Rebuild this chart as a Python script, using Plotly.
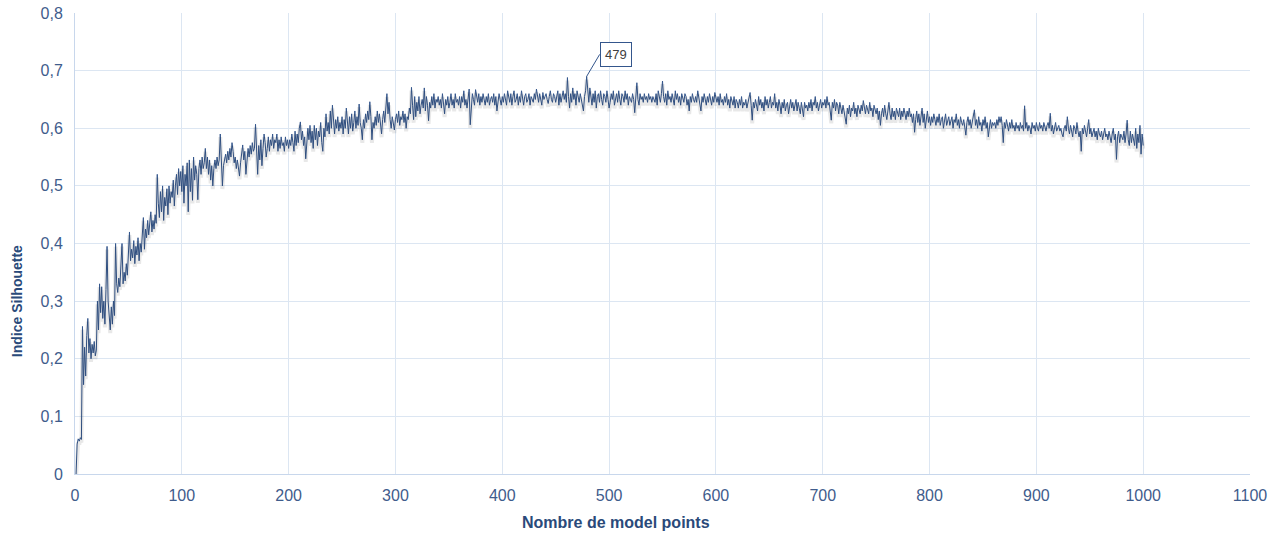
import plotly.graph_objects as go

# x: number of model points (1..1000)
silhouette = [
    0.0, 0.052, 0.061, 0.057, 0.063, 0.06, 0.256, 0.155, 0.22, 0.17, 0.24, 0.27, 0.21, 0.235, 0.2, 0.225, 0.21, 0.23, 0.205, 0.215,
    0.3, 0.25, 0.33, 0.28, 0.325, 0.27, 0.3, 0.26, 0.32, 0.395, 0.3, 0.265, 0.25, 0.29, 0.26, 0.3, 0.275, 0.4, 0.33, 0.315,
    0.34, 0.325, 0.36, 0.4, 0.33, 0.35, 0.335, 0.365, 0.345, 0.38, 0.42, 0.37, 0.39, 0.375, 0.405, 0.365, 0.395, 0.38, 0.41, 0.37,
    0.4, 0.385, 0.42, 0.445, 0.39, 0.425, 0.41, 0.44, 0.415, 0.43, 0.455, 0.42, 0.44, 0.425, 0.45, 0.435, 0.52, 0.47, 0.445, 0.49,
    0.455, 0.5, 0.44, 0.48, 0.465, 0.495, 0.45, 0.5, 0.47, 0.49, 0.48, 0.51, 0.465, 0.5, 0.52, 0.485, 0.53, 0.5, 0.525, 0.49,
    0.535, 0.47, 0.52, 0.5, 0.54, 0.455, 0.545, 0.49, 0.53, 0.475, 0.55, 0.51, 0.535, 0.52, 0.476, 0.53, 0.545, 0.52, 0.55, 0.53,
    0.54, 0.565, 0.53, 0.55, 0.52, 0.545, 0.51, 0.535, 0.5, 0.53, 0.545, 0.53, 0.55, 0.535, 0.545, 0.59, 0.54, 0.5, 0.535, 0.545,
    0.555, 0.54, 0.56, 0.545, 0.565, 0.55, 0.575, 0.56, 0.54, 0.55, 0.53, 0.545, 0.525, 0.517, 0.54, 0.555, 0.571, 0.545, 0.56, 0.52,
    0.55, 0.565, 0.55, 0.57, 0.555, 0.575, 0.56, 0.565, 0.607, 0.55, 0.52, 0.57, 0.545, 0.58, 0.535, 0.565, 0.59, 0.575, 0.55, 0.565,
    0.585, 0.56, 0.58, 0.57, 0.59, 0.565, 0.58, 0.575, 0.59, 0.56, 0.58, 0.565, 0.585, 0.57, 0.575, 0.56, 0.585, 0.57, 0.58, 0.565,
    0.58, 0.57, 0.59, 0.575, 0.56, 0.595, 0.57, 0.59, 0.575, 0.6, 0.611, 0.58, 0.595, 0.57, 0.585, 0.547, 0.57, 0.6, 0.58, 0.605,
    0.575, 0.595, 0.565, 0.605, 0.58, 0.6, 0.57, 0.595, 0.585, 0.61, 0.575, 0.56, 0.6, 0.585, 0.625, 0.595, 0.61, 0.59, 0.63, 0.6,
    0.64, 0.605, 0.59, 0.615, 0.6, 0.62, 0.595, 0.61, 0.6, 0.62, 0.59, 0.615, 0.6, 0.635, 0.605, 0.59, 0.62, 0.6, 0.625, 0.595,
    0.61, 0.63, 0.6, 0.62, 0.605, 0.642, 0.61, 0.6, 0.58, 0.615, 0.6, 0.625, 0.61, 0.63, 0.615, 0.646, 0.62, 0.58, 0.61, 0.6,
    0.62, 0.605, 0.63, 0.61, 0.625, 0.6, 0.59, 0.615, 0.63, 0.61, 0.64, 0.66, 0.625, 0.645, 0.615, 0.6, 0.62, 0.605, 0.597, 0.615,
    0.625, 0.61, 0.63, 0.605, 0.62, 0.615, 0.63, 0.61, 0.625, 0.6, 0.62, 0.615, 0.635, 0.625, 0.671, 0.64, 0.615, 0.655, 0.62, 0.645,
    0.63, 0.655, 0.625, 0.64, 0.65, 0.635, 0.67, 0.63, 0.655, 0.64, 0.613, 0.645, 0.635, 0.655, 0.64, 0.66, 0.635, 0.65, 0.645, 0.655,
    0.64, 0.65, 0.635, 0.66, 0.645, 0.625, 0.65, 0.64, 0.655, 0.635, 0.645, 0.66, 0.64, 0.65, 0.635, 0.66, 0.645, 0.65, 0.64, 0.655,
    0.635, 0.655, 0.645, 0.665, 0.64, 0.65, 0.635, 0.655, 0.668, 0.606, 0.645, 0.66, 0.65, 0.64, 0.667, 0.65, 0.645, 0.66, 0.64, 0.655,
    0.645, 0.66, 0.65, 0.64, 0.655, 0.645, 0.66, 0.64, 0.65, 0.655, 0.645, 0.66, 0.64, 0.655, 0.63, 0.645, 0.66, 0.65, 0.64, 0.655,
    0.645, 0.66, 0.65, 0.64, 0.665, 0.65, 0.645, 0.66, 0.64, 0.655, 0.665, 0.645, 0.65, 0.66, 0.64, 0.655, 0.645, 0.665, 0.65, 0.64,
    0.655, 0.66, 0.645, 0.65, 0.66, 0.64, 0.655, 0.65, 0.645, 0.66, 0.65, 0.668, 0.655, 0.645, 0.66, 0.65, 0.64, 0.662, 0.65, 0.655,
    0.66, 0.65, 0.643, 0.655, 0.665, 0.65, 0.645, 0.66, 0.655, 0.645, 0.655, 0.665, 0.64, 0.66, 0.645, 0.655, 0.665, 0.65, 0.66, 0.645,
    0.688, 0.655, 0.635, 0.66, 0.645, 0.67, 0.65, 0.66, 0.64, 0.665, 0.655, 0.645, 0.66, 0.65, 0.64, 0.63, 0.655, 0.665, 0.69, 0.66,
    0.645, 0.67, 0.65, 0.64, 0.66, 0.645, 0.665, 0.635, 0.655, 0.66, 0.645, 0.665, 0.65, 0.64, 0.66, 0.655, 0.645, 0.665, 0.65, 0.635,
    0.645, 0.66, 0.65, 0.665, 0.64, 0.655, 0.66, 0.645, 0.665, 0.65, 0.64, 0.66, 0.655, 0.645, 0.665, 0.65, 0.66, 0.64, 0.655, 0.65,
    0.645, 0.66, 0.65, 0.627, 0.655, 0.679, 0.65, 0.64, 0.66, 0.65, 0.655, 0.645, 0.66, 0.65, 0.655, 0.645, 0.66, 0.65, 0.655, 0.645,
    0.655, 0.65, 0.645, 0.66, 0.64, 0.665, 0.65, 0.645, 0.66, 0.682, 0.655, 0.645, 0.66, 0.64, 0.665, 0.65, 0.655, 0.645, 0.66, 0.65,
    0.64, 0.665, 0.65, 0.66, 0.645, 0.655, 0.64, 0.66, 0.65, 0.645, 0.66, 0.655, 0.64, 0.65, 0.63, 0.655, 0.645, 0.66, 0.65, 0.645,
    0.655, 0.645, 0.665, 0.65, 0.64, 0.63, 0.655, 0.645, 0.66, 0.65, 0.64, 0.655, 0.645, 0.66, 0.65, 0.64, 0.655, 0.645, 0.662, 0.65,
    0.645, 0.655, 0.64, 0.66, 0.645, 0.65, 0.64, 0.655, 0.645, 0.66, 0.64, 0.65, 0.635, 0.655, 0.645, 0.64, 0.655, 0.635, 0.65, 0.645,
    0.635, 0.65, 0.64, 0.655, 0.635, 0.645, 0.64, 0.65, 0.635, 0.645, 0.655, 0.662, 0.64, 0.614, 0.645, 0.635, 0.65, 0.64, 0.63, 0.655,
    0.64, 0.65, 0.635, 0.645, 0.63, 0.655, 0.64, 0.65, 0.635, 0.645, 0.655, 0.635, 0.645, 0.64, 0.66, 0.635, 0.645, 0.63, 0.65, 0.64,
    0.625, 0.645, 0.635, 0.65, 0.63, 0.64, 0.645, 0.625, 0.64, 0.65, 0.635, 0.645, 0.63, 0.64, 0.65, 0.63, 0.645, 0.635, 0.625, 0.645,
    0.635, 0.62, 0.645, 0.635, 0.64, 0.63, 0.645, 0.635, 0.65, 0.63, 0.645, 0.64, 0.655, 0.635, 0.645, 0.63, 0.64, 0.65, 0.635, 0.645,
    0.64, 0.65, 0.635, 0.655, 0.64, 0.645, 0.63, 0.614, 0.645, 0.635, 0.65, 0.63, 0.645, 0.64, 0.625, 0.645, 0.635, 0.625, 0.64, 0.63,
    0.62, 0.607, 0.635, 0.625, 0.64, 0.62, 0.635, 0.63, 0.645, 0.625, 0.635, 0.62, 0.64, 0.63, 0.625, 0.64, 0.63, 0.648, 0.635, 0.625,
    0.64, 0.63, 0.625, 0.645, 0.63, 0.635, 0.62, 0.64, 0.63, 0.625, 0.635, 0.615, 0.63, 0.605, 0.625, 0.635, 0.62, 0.64, 0.625, 0.615,
    0.63, 0.645, 0.625, 0.615, 0.635, 0.62, 0.63, 0.615, 0.635, 0.625, 0.62, 0.635, 0.615, 0.63, 0.62, 0.635, 0.625, 0.615, 0.63, 0.62,
    0.635, 0.62, 0.625, 0.61, 0.625, 0.593, 0.615, 0.63, 0.61, 0.625, 0.605, 0.62, 0.635, 0.61, 0.625, 0.6, 0.62, 0.63, 0.61, 0.62,
    0.605, 0.62, 0.61, 0.625, 0.615, 0.605, 0.62, 0.61, 0.625, 0.605, 0.615, 0.62, 0.6, 0.615, 0.625, 0.605, 0.615, 0.62, 0.605, 0.615,
    0.62, 0.6, 0.615, 0.61, 0.625, 0.605, 0.615, 0.6, 0.62, 0.61, 0.605, 0.615, 0.6, 0.588, 0.61, 0.62, 0.605, 0.615, 0.6, 0.61,
    0.62, 0.632, 0.605, 0.615, 0.6, 0.62, 0.605, 0.61, 0.595, 0.615, 0.605, 0.62, 0.6, 0.61, 0.585, 0.605, 0.615, 0.6, 0.61, 0.605,
    0.61, 0.6, 0.615, 0.605, 0.62, 0.61, 0.62, 0.605, 0.575, 0.61, 0.6, 0.615, 0.605, 0.595, 0.61, 0.6, 0.615, 0.6, 0.605, 0.595,
    0.61, 0.6, 0.605, 0.595, 0.61, 0.6, 0.605, 0.595, 0.639, 0.6, 0.61, 0.595, 0.605, 0.6, 0.59, 0.61, 0.6, 0.605, 0.595, 0.61,
    0.6, 0.595, 0.61, 0.6, 0.605, 0.595, 0.61, 0.6, 0.595, 0.605, 0.61, 0.6, 0.626, 0.595, 0.605, 0.59, 0.6, 0.61, 0.595, 0.6,
    0.605, 0.595, 0.6, 0.59, 0.585, 0.6, 0.605, 0.595, 0.62, 0.6, 0.59, 0.605, 0.595, 0.585, 0.605, 0.6, 0.59, 0.61, 0.595, 0.585,
    0.595, 0.56, 0.6, 0.59, 0.605, 0.595, 0.585, 0.6, 0.615, 0.59, 0.6, 0.585, 0.595, 0.6, 0.585, 0.595, 0.58, 0.6, 0.59, 0.585,
    0.595, 0.58, 0.59, 0.6, 0.585, 0.59, 0.58, 0.595, 0.585, 0.575, 0.59, 0.6, 0.58, 0.59, 0.546, 0.585, 0.595, 0.575, 0.59, 0.585,
    0.58, 0.595, 0.575, 0.59, 0.614, 0.58, 0.57, 0.595, 0.575, 0.59, 0.58, 0.57, 0.6, 0.565, 0.59, 0.575, 0.605, 0.555, 0.59, 0.57,
]
model_points = list(range(1, len(silhouette) + 1))

peak_x = 479
peak_label = "479"

x_title = "Nombre de model points"
y_title = "Indice Silhouette"

LINE = "#34568C"
TICK = "#3F5C8C"
TITLE = "#2A4A7A"
GRID = "#DCE6F2"
FONT = "Liberation Sans, Arial, sans-serif"

fig = go.Figure()
# soft shadow under the line
fig.add_trace(go.Scatter(
    x=model_points, y=silhouette, mode="lines", yaxis="y2",
    line=dict(color="rgba(0,0,0,0.09)", width=4), hoverinfo="skip", showlegend=False,
))
fig.add_trace(go.Scatter(
    x=model_points, y=silhouette, mode="lines",
    line=dict(color=LINE, width=1.0), showlegend=False,
))

fig.add_annotation(
    x=peak_x, y=silhouette[peak_x - 1], xref="x", yref="y",
    text=peak_label, showarrow=True, arrowhead=0, arrowwidth=1, arrowcolor=LINE,
    ax=13, ay=-22, xanchor="left", yanchor="middle",
    bordercolor=LINE, borderwidth=1, borderpad=4, bgcolor="white",
    font=dict(family=FONT, size=13, color="#404040"),
)

# axis titles (placed like the original, off-centre)
fig.add_annotation(
    x=0.46, y=0, xref="paper", yref="paper", xanchor="center", yanchor="middle",
    yshift=-48, showarrow=False, text="<b>" + x_title + "</b>",
    font=dict(family=FONT, size=16, color=TITLE),
)
fig.add_annotation(
    x=0, y=0.375, xref="paper", yref="paper", xanchor="center", yanchor="middle",
    xshift=-58, textangle=-90, showarrow=False, text="<b>" + y_title + "</b>",
    font=dict(family=FONT, size=14, color=TITLE),
)

fig.update_layout(
    width=1280, height=533,
    margin=dict(l=75, r=30, t=13, b=59, autoexpand=False),
    paper_bgcolor="white", plot_bgcolor="white",
    separators=", ",
    font=dict(family=FONT, color=TICK),
    xaxis=dict(
        range=[0, 1100], dtick=100, tick0=0, automargin=False,
        showgrid=True, gridcolor=GRID, gridwidth=1,
        zeroline=False, showline=True, linecolor="#C8D7EC", linewidth=1,
        ticks="outside", ticklen=7, tickcolor="rgba(0,0,0,0)",
        tickfont=dict(size=16, color=TICK),
    ),
    yaxis=dict(
        range=[0, 0.8], dtick=0.1, tick0=0, automargin=False,
        showgrid=True, gridcolor=GRID, gridwidth=1,
        zeroline=False, showline=True, linecolor="#C8D7EC", linewidth=1,
        ticks="outside", ticklen=8, tickcolor="rgba(0,0,0,0)",
        tickfont=dict(size=16, color=TICK),
    ),
    yaxis2=dict(
        range=[0.0055, 0.8055], overlaying="y", visible=False,
    ),
)

fig.write_html(
    "out.html",
    config={"displayModeBar": False},
    post_script="document.body.style.margin='0';document.body.style.overflow='hidden';",
)
